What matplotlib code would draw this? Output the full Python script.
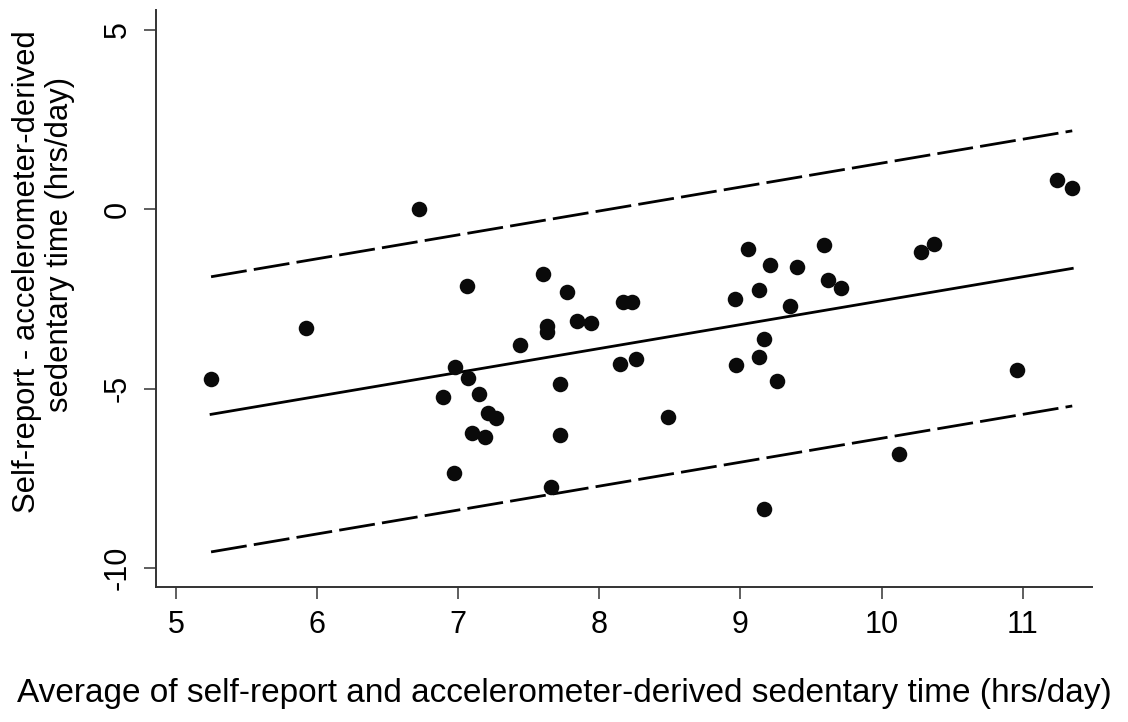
import numpy as np
import matplotlib
matplotlib.use("Agg")
import matplotlib.pyplot as plt

# Average of the two measures (hrs/day)
avg_time = [5.25, 5.92, 6.72, 6.89, 6.97, 6.98, 7.06, 7.07, 7.10, 7.15,
            7.19, 7.21, 7.27, 7.44, 7.60, 7.63, 7.63, 7.66, 7.72, 7.72,
            7.77, 7.84, 7.94, 8.15, 8.17, 8.23, 8.26, 8.49, 8.96, 8.97,
            9.05, 9.13, 9.13, 9.17, 9.17, 9.21, 9.26, 9.35, 9.40, 9.59,
            9.62, 9.71, 10.12, 10.28, 10.37, 10.96, 11.24, 11.35]

# Self-report minus accelerometer-derived (hrs/day)
diff_time = [-4.74, -3.32, 0.00, -5.22, -7.36, -4.39, -2.13, -4.71, -6.23, -5.15,
             -6.34, -5.69, -5.81, -3.78, -1.82, -3.25, -3.42, -7.73, -4.88, -6.29,
             -2.32, -3.12, -3.16, -4.30, -2.58, -2.58, -4.18, -5.78, -2.49, -4.35,
             -1.11, -2.25, -4.11, -3.62, -8.34, -1.56, -4.79, -2.70, -1.61, -1.00,
             -1.96, -2.21, -6.82, -1.19, -0.96, -4.48, 0.81, 0.58]

# Regression-based bias line and limits of agreement
bias_intercept = -9.21
bias_slope = 0.666
loa_halfwidth = 3.83

x_ticks = [5, 6, 7, 8, 9, 10, 11]
y_ticks = [-10, -5, 0, 5]

plt.rcParams["font.family"] = ["Liberation Sans", "DejaVu Sans"]

fig = plt.figure(figsize=(11.28, 7.22), dpi=100)
ax = fig.add_axes([0.1383, 0.187, 0.8298, 0.799])

ax.scatter(avg_time, diff_time, s=125, color="#0a0a0a", linewidths=0, zorder=3)

line_x = np.array([min(avg_time), max(avg_time)])
bias = bias_intercept + bias_slope * line_x
ax.plot(line_x, bias, color="black", lw=2)
ax.plot(line_x, bias + loa_halfwidth, color="black", lw=2, dashes=(13, 2.6))
ax.plot(line_x, bias - loa_halfwidth, color="black", lw=2, dashes=(13, 2.6))

ax.set_xlim(4.86, 11.49)
ax.set_ylim(-10.52, 5.54)
ax.set_xticks(x_ticks)
ax.set_yticks(y_ticks)
ax.set_yticklabels([str(t) for t in y_ticks], rotation=90, va="center")

for side in ["top", "right"]:
    ax.spines[side].set_visible(False)
for side in ["left", "bottom"]:
    ax.spines[side].set_color("#333333")
    ax.spines[side].set_linewidth(1.4)

ax.tick_params(axis="both", length=8.5, width=1.1, color="#333333",
               labelsize=22, pad=8)

fig.text(0.5, 0.04, "Average of self-report and accelerometer-derived sedentary time (hrs/day)",
         ha="center", va="center", fontsize=24)
fig.text(0.024, 1 - 272 / 722, "Self-report - accelerometer-derived",
         rotation=90, ha="center", va="center", fontsize=22.3)
fig.text(0.053, 1 - 244 / 722, "sedentary time (hrs/day)",
         rotation=90, ha="center", va="center", fontsize=22.3)

fig.savefig("out.png", dpi=100, facecolor="white")
